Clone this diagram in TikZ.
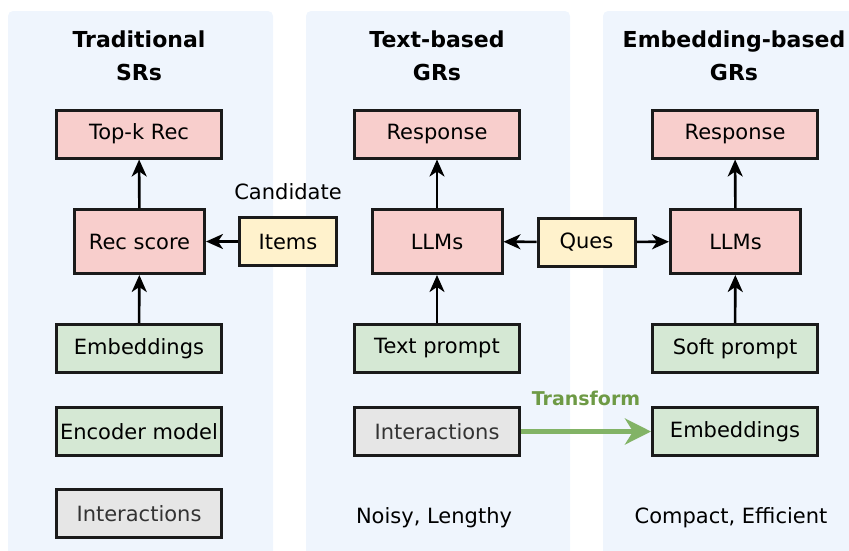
\documentclass[tikz,border=0pt]{standalone}
\usepackage{fontspec}
\setmainfont{DejaVu Sans}
\usetikzlibrary{arrows.meta}

\definecolor{panelbg}{HTML}{EFF5FD}
\definecolor{boxline}{HTML}{1A1A1A}
\definecolor{pinkfill}{HTML}{F8CECC}
\definecolor{yellowfill}{HTML}{FFF2CC}
\definecolor{greenfill}{HTML}{D5E8D4}
\definecolor{grayfill}{HTML}{E6E6E6}
\definecolor{transgreen}{HTML}{82B366}
\definecolor{transtext}{HTML}{6E9A45}

\begin{document}
\begin{tikzpicture}[x=1pt,y=-1pt,
  panel/.style={fill=panelbg, draw=none, rounded corners=5pt},
  box/.style={draw=boxline, line width=3pt, inner sep=0pt,
    minimum width=165pt, minimum height=48pt,
    font=\fontsize{21}{25}\selectfont},
  pinkbox/.style={box, fill=pinkfill},
  corebox/.style={box, fill=pinkfill, minimum width=130pt, minimum height=64pt},
  yellowbox/.style={box, fill=yellowfill, minimum width=97pt},
  greenbox/.style={box, fill=greenfill},
  graybox/.style={box, fill=grayfill, text=black!80},
  title/.style={anchor=base, font=\bfseries\fontsize{22}{26}\selectfont},
  note/.style={anchor=base, font=\fontsize{21}{25}\selectfont},
  flow/.style={-{Stealth[length=17pt,width=15pt,inset=5pt]}, line width=2.6pt, draw=black},
  transform/.style={-{Stealth[length=26pt,width=26pt,inset=8pt]}, line width=5pt, draw=transgreen}
]
\useasboundingbox (0,0) rectangle (849,550);

% column panels
\fill[panel] (8,11) rectangle (273,560);
\fill[panel] (306,11) rectangle (570,560);
\fill[panel] (603,11) rectangle (870,560);

% titles
\node[title] (t1a) at (139,47) {Traditional};
\node[title] (t1b) at (139,80) {SRs};
\node[title] (t2a) at (437,47) {Text-based};
\node[title] (t2b) at (437,80) {GRs};
\node[title] (t3a) at (734,47) {Embedding-based};
\node[title] (t3b) at (734,80) {GRs};

% traditional SRs
\node[pinkbox]   (topk)   at (139,134)   {Top-k Rec};
\node[corebox]   (score)  at (139.5,241.5) {Rec score};
\node[yellowbox] (items)  at (288,241.5) {Items};
\node[greenbox]  (emb1)   at (139,348.5) {Embeddings};
\node[greenbox]  (enc)    at (139,431.5) {Encoder model};
\node[graybox]   (inter1) at (139,513.5) {Interactions};
\node[note]      (cand)   at (288,199)   {Candidate};

% text-based GRs
\node[pinkbox]   (resp2)  at (437,134)   {Response};
\node[corebox]   (llm2)   at (437,241.5) {LLMs};
\node[greenbox]  (tprompt) at (437,348.5) {Text prompt};
\node[graybox]   (inter2) at (437,431.5) {Interactions};
\node[note]      (noisy)  at (434,523)   {Noisy, Lengthy};

% shared question
\node[yellowbox] (ques)   at (586.5,242) {Ques};

% embedding-based GRs
\node[pinkbox]   (resp3)  at (735,134)   {Response};
\node[corebox]   (llm3)   at (735.5,241.5) {LLMs};
\node[greenbox]  (sprompt) at (735,348.5) {Soft prompt};
\node[greenbox]  (emb3)   at (735,431.5) {Embeddings};
\node[note]      (compact) at (731,523)  {Compact, Efficient};

% connectors
\draw[flow] (score) -- (topk);
\draw[flow] (emb1) -- (score);
\draw[flow] (items) -- (score);
\draw[flow] (llm2) -- (resp2);
\draw[flow] (tprompt) -- (llm2);
\draw[flow] (ques) -- (llm2);
\draw[flow] (ques) -- (llm3);
\draw[flow] (llm3) -- (resp3);
\draw[flow] (sprompt) -- (llm3);
\draw[transform] (inter2) -- (emb3);
\node[anchor=base, text=transtext, font=\bfseries\fontsize{19}{22}\selectfont] (tlabel) at (586,405) {Transform};
\end{tikzpicture}
\end{document}
